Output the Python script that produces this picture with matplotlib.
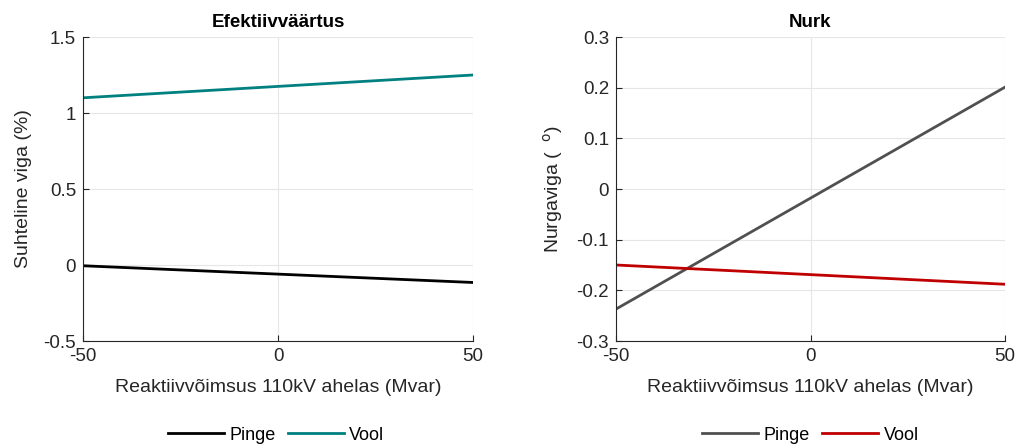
import numpy as np
import matplotlib.pyplot as plt

plt.rcParams['font.family'] = ['Liberation Sans', 'DejaVu Sans']
plt.rcParams['axes.unicode_minus'] = False

# reactive power in the 110 kV circuit (Mvar)
q = [-50, 0, 50]

# RMS error (%)
rms_pinge = [-0.005, -0.06, -0.115]
rms_vool = [1.10, 1.175, 1.25]

# angle error (deg)
ang_pinge = [-0.237, -0.018, 0.201]
ang_vool = [-0.150, -0.169, -0.188]

xticks = [-50, 0, 50]
yticks_left = [-0.5, 0, 0.5, 1, 1.5]
yticks_right = [-0.3, -0.2, -0.1, 0, 0.1, 0.2, 0.3]

fig = plt.figure(figsize=(10.18, 4.44), dpi=100)
ax1 = fig.add_axes([83/1018, 1 - 341/444, 390/1018, 304/444])
ax2 = fig.add_axes([616/1018, 1 - 341/444, 389/1018, 304/444])

txt = '#262626'


def style(ax, yticks, ylabel, title):
    ax.set_xlim(-50, 50)
    ax.set_ylim(yticks[0], yticks[-1])
    ax.set_xticks(xticks)
    ax.set_yticks(yticks)
    ax.set_yticklabels(['%g' % v for v in yticks])
    ax.grid(True, color='#e6e6e6', linewidth=0.8)
    ax.set_axisbelow(True)
    for s in ['top', 'right']:
        ax.spines[s].set_visible(False)
    for s in ['left', 'bottom']:
        ax.spines[s].set_color(txt)
        ax.spines[s].set_linewidth(0.8)
    ax.tick_params(direction='in', length=4, colors=txt, labelsize=13.5, pad=5)
    ax.set_xlabel('Reaktiivvõimsus 110kV ahelas (Mvar)', fontsize=14, color=txt, labelpad=10)
    ax.set_ylabel(ylabel, fontsize=14, color=txt, labelpad=8)
    ax.set_title(title, fontsize=13.5, fontweight='bold', pad=7)


ax1.plot(q, rms_pinge, color='black', linewidth=2, label='Pinge')
ax1.plot(q, rms_vool, color='#008080', linewidth=2, label='Vool')
style(ax1, yticks_left, 'Suhteline viga (%)', 'Efektiivväärtus')
ax1.legend(loc='center', bbox_to_anchor=(0.495, -0.31), ncol=2, frameon=False,
           fontsize=13, handlelength=3.1, columnspacing=0.7, handletextpad=0.3)

ax2.plot(q, ang_pinge, color='#505050', linewidth=2, label='Pinge')
ax2.plot(q, ang_vool, color='#c00000', linewidth=2, label='Vool')
style(ax2, yticks_right, r'Nurgaviga (  $^{\mathrm{o}}$)', 'Nurk')
ax2.legend(loc='center', bbox_to_anchor=(0.5, -0.31), ncol=2, frameon=False,
           fontsize=13, handlelength=3.1, columnspacing=0.7, handletextpad=0.3)

fig.savefig('out.png', dpi=100)
